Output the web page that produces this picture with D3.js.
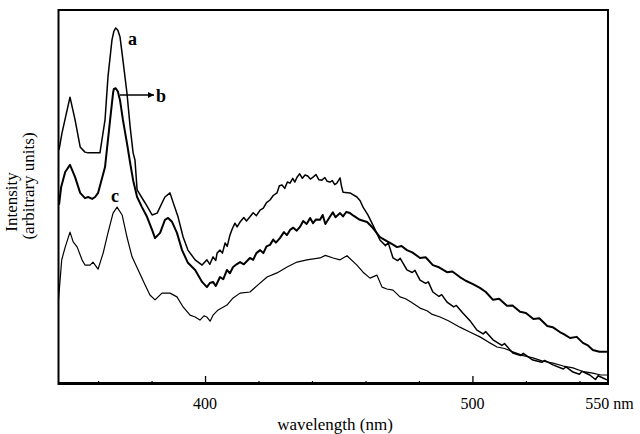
<!DOCTYPE html>
<html>
<head>
<meta charset="utf-8">
<script src="https://cdn.jsdelivr.net/npm/d3@7"></script>
<style>
    body { margin: 0; background: white; }
    text { font-family: "Liberation Serif", "Times New Roman", serif; fill: black; }
</style>
</head>
<body>
<svg id="chart" width="640" height="434"></svg>
<script>
// wavelength (nm) and intensity (arbitrary units)
var wlA = [345.4, 346.5, 349.5, 351.4, 353.3, 355.1, 356.3, 360.7, 362.6, 363.7, 365.2, 365.9, 366.6, 367.4, 368.2, 369.3, 370.8, 372.0, 373.1, 373.8, 374.6, 377.6, 380.2, 382.1, 383.9, 385.0, 386.9, 388.0, 389.9, 391.8, 393.6, 396.3, 398.9,
    400.7, 401.8, 403.0, 404.0, 404.5, 405.6, 406.5, 407.5, 408.3, 409.3, 410.2, 411.2, 412.0, 413.1, 414.5, 415.5, 416.8, 418.0, 419.2, 420.6, 421.8, 423.0, 424.3, 425.5, 426.9, 427.8, 428.8, 429.8, 430.8, 431.8, 432.8, 433.6, 434.4, 435.4, 436.4, 437.4, 438.4, 439.4, 440.4, 441.5, 442.6, 443.7, 444.8, 445.7, 446.7, 447.6, 448.5, 449.3, 450.5, 451.0, 451.6, 454.2, 456.8, 458.0, 459.1, 460.9, 462.8, 465.4, 467.5, 468.5, 470.3, 472.0, 473.0, 475.5, 477.5, 478.5, 480.4, 482.5, 483.5, 485.2, 487.5, 488.5, 490.5, 493.0, 494.0, 496.4, 499.0, 501.7, 504.0, 505.0, 507.7, 511.0, 512.0, 515.1, 518.0, 519.0, 522.6, 526.0, 527.0, 530.1, 534.0, 535.0, 537.6, 540.0, 541.0, 543.9, 546.0, 547.0, 548.8, 550.3];
var intA = [62.6, 67.1, 76.7, 70.6, 63.4, 62.0, 61.8, 61.8, 70.6, 82.1, 92.0, 94.3, 95.2, 94.6, 92.8, 86.6, 77.8, 68.7, 61.8, 59.9, 51.9, 48.4, 45.2, 45.7, 48.4, 50.0, 51.1, 48.7, 44.7, 39.3, 35.8, 33.2, 31.8,
    33.2, 32.0, 34.0, 33.0, 35.0, 35.8, 35.0, 37.7, 36.8, 39.8, 41.5, 43.0, 42.0, 43.3, 44.5, 43.6, 44.7, 45.8, 45.0, 46.5, 47.0, 48.5, 49.2, 50.4, 51.1, 53.0, 53.2, 52.3, 54.0, 53.7, 55.0, 54.0, 55.3, 56.2, 55.0, 55.9, 55.6, 54.8, 55.3, 56.0, 54.6, 54.5, 55.2, 54.2, 54.0, 54.4, 53.3, 53.7, 55.1, 53.0, 51.3, 51.1, 50.0, 49.0, 47.3, 45.2, 42.5, 38.5, 37.0, 37.8, 33.7, 33.0, 33.6, 30.5, 29.8, 30.4, 27.8, 26.9, 27.3, 24.6, 23.4, 23.9, 21.9, 20.6, 21.0, 19.0, 17.0, 14.4, 13.4, 14.0, 11.8, 10.3, 10.8, 8.3, 7.6, 8.2, 6.4, 5.8, 6.3, 5.1, 4.0, 4.6, 3.2, 2.6, 3.4, 2.4, 1.2, 2.2, 1.6, 1.1];

var wlB = [345.4, 346.2, 347.7, 349.5, 351.4, 353.3, 355.1, 356.3, 357.8, 358.9, 360.0, 362.6, 364.5, 365.6, 365.9, 366.6, 367.4, 368.2, 369.3, 370.8, 372.0, 373.1, 374.6, 376.4, 378.3, 380.2, 381.3, 383.2, 385.0, 386.2, 387.7, 389.5, 391.4, 393.6, 396.3, 398.9,
    400.7, 401.8, 403.0, 404.0, 405.6, 406.8, 408.2, 409.3, 410.5, 411.8, 413.1, 414.5, 416.8, 418.0, 419.2, 420.6, 421.8, 423.0, 424.3, 425.5, 426.5, 428.0, 429.5, 430.6, 431.8, 433.0, 434.3, 435.5, 436.7, 438.0, 439.3, 440.4, 441.5, 443.0, 444.0, 445.0, 446.7, 447.8, 448.8, 450.5, 451.6, 452.8, 454.2, 455.5, 457.9, 460.6, 462.8, 465.4, 468.0, 470.0, 471.8, 473.5, 475.5, 477.5, 480.4, 482.5, 485.2, 487.5, 490.5, 492.5, 495.3, 497.5, 500.2, 502.8, 505.0, 507.7, 510.0, 512.9, 515.0, 517.8, 520.0, 522.8, 525.0, 528.0, 530.0, 532.7, 534.5, 536.5, 539.0, 541.3, 543.0, 545.0, 547.5, 550.3];
var intB = [47.9, 52.7, 56.7, 58.6, 55.3, 51.1, 49.7, 50.0, 49.5, 50.0, 51.1, 58.0, 70.6, 77.8, 78.9, 79.1, 78.2, 75.9, 70.6, 64.4, 59.1, 54.5, 50.0, 47.3, 44.7, 41.2, 39.0, 40.4, 43.9, 44.4, 43.3, 40.4, 35.8, 32.4, 30.5, 27.3,
    25.9, 27.0, 27.3, 26.2, 28.6, 28.0, 30.5, 29.6, 31.3, 32.0, 32.6, 32.0, 33.7, 33.2, 35.0, 35.8, 35.0, 36.8, 37.2, 38.6, 37.8, 39.0, 40.6, 39.8, 41.2, 41.8, 41.0, 42.0, 43.6, 42.8, 44.4, 43.0, 44.0, 43.9, 45.2, 42.8, 44.7, 45.9, 44.6, 45.7, 44.8, 46.0, 45.7, 45.0, 43.9, 43.3, 41.7, 39.3, 38.2, 37.4, 36.6, 36.9, 35.8, 35.2, 33.7, 33.9, 31.8, 31.2, 29.9, 30.1, 28.6, 27.6, 26.7, 25.7, 24.6, 22.5, 22.8, 20.9, 21.0, 19.3, 19.0, 17.4, 17.6, 15.5, 15.2, 13.9, 13.2, 12.3, 12.6, 11.0, 10.4, 9.1, 8.6, 8.6];

var wlC = [345.2, 346.4, 347.7, 349.5, 350.7, 352.2, 354.0, 355.1, 357.0, 358.1, 360.0, 361.9, 363.7, 365.6, 367.1, 369.0, 370.8, 372.7, 375.0, 377.6, 379.4, 381.3, 383.9, 386.9, 389.5, 391.8, 394.4, 396.3, 398.1, 399.6, 400.7, 401.9, 403.0, 404.9, 408.2, 410.5, 413.1, 416.8, 419.8, 423.2, 426.9, 430.7, 434.4, 438.1, 443.0, 445.0, 447.9, 450.5, 453.1, 456.8, 459.1, 461.7, 464.3, 466.2, 468.0, 470.3, 472.9, 475.0, 477.0, 480.4, 483.0, 485.0, 487.9, 491.0, 493.0, 495.3, 499.0, 502.8, 506.0, 509.2, 512.0, 515.1, 519.0, 522.6, 526.0, 530.1, 534.0, 537.6, 541.0, 545.0, 548.0, 550.3];
var intC = [22.5, 33.2, 36.6, 40.6, 38.0, 36.6, 33.2, 31.8, 31.8, 32.6, 30.7, 35.0, 40.4, 45.7, 47.3, 45.2, 39.3, 34.0, 30.5, 26.5, 23.8, 22.5, 24.3, 24.3, 23.3, 20.6, 18.4, 17.9, 17.1, 18.2, 17.9, 16.8, 18.4, 19.8, 21.1, 23.0, 24.3, 24.6, 26.5, 28.6, 29.7, 31.3, 32.6, 33.2, 33.7, 34.4, 33.7, 33.2, 34.3, 31.8, 29.9, 28.3, 29.1, 25.9, 25.4, 25.1, 23.3, 22.8, 21.9, 20.3, 19.6, 18.6, 17.9, 16.9, 16.1, 15.2, 13.9, 12.6, 11.2, 9.9, 9.5, 8.6, 7.6, 7.0, 6.2, 5.6, 4.8, 4.3, 3.4, 2.9, 2.4, 2.4];

var majorTicks = [400, 500, 550];
var majorLabels = ["400", "500", "550 nm"];
var minorTicks = [360, 380, 420, 440, 460, 480, 520, 540];

var svg = d3.select("#chart");
var plotLeft = 58.5, plotRight = 608, plotTop = 10, plotBottom = 384;

var x = d3.scaleLinear().domain([345.2, 550.7]).range([plotLeft, plotRight]);
var y = d3.scaleLinear().domain([0, 100]).range([plotBottom, plotTop]);

var line = d3.line()
    .x(function (d) { return x(d[0]); })
    .y(function (d) { return y(d[1]); });

function pairs(w, v) {
    return w.map(function (d, i) { return [d, v[i]]; });
}

var curves = [
    { data: pairs(wlC, intC), width: 1.2 },
    { data: pairs(wlA, intA), width: 1.5 },
    { data: pairs(wlB, intB), width: 2.0 }
];

svg.append("g").selectAll("path")
    .data(curves)
    .enter().append("path")
    .attr("d", function (d) { return line(d.data); })
    .attr("fill", "none")
    .attr("stroke", "black")
    .attr("stroke-width", function (d) { return d.width; })
    .attr("stroke-linejoin", "round");

// frame
svg.append("rect")
    .attr("x", plotLeft).attr("y", plotTop)
    .attr("width", plotRight - plotLeft).attr("height", plotBottom - plotTop)
    .attr("fill", "none").attr("stroke", "black").attr("stroke-width", 2);
svg.append("line")
    .attr("x1", plotLeft).attr("x2", plotRight)
    .attr("y1", plotBottom - 1).attr("y2", plotBottom - 1)
    .attr("stroke", "black").attr("stroke-width", 2);

// ticks point up inside the frame
var xAxisMajor = d3.axisTop(x).tickValues([400, 500]).tickSize(8).tickFormat("");
var xAxisMinor = d3.axisTop(x).tickValues(minorTicks).tickSize(3).tickFormat("");
svg.append("g").attr("transform", "translate(0," + plotBottom + ")").call(xAxisMajor)
    .call(function (g) { g.select(".domain").remove(); })
    .selectAll("line").attr("stroke-width", 1.3);
svg.append("g").attr("transform", "translate(0," + plotBottom + ")").call(xAxisMinor)
    .call(function (g) { g.select(".domain").remove(); })
    .selectAll("line").attr("stroke-width", 1.2);

// tick labels
svg.append("g").selectAll("text")
    .data(majorTicks)
    .enter().append("text")
    .attr("x", function (d, i) { return i == 2 ? x(d) - 21 : x(d); })
    .attr("y", 409)
    .attr("text-anchor", function (d, i) { return i == 2 ? "start" : "middle"; })
    .style("font-size", "16px")
    .text(function (d, i) { return majorLabels[i]; });

svg.append("text")
    .attr("x", 335).attr("y", 430)
    .attr("text-anchor", "middle")
    .style("font-size", "17px")
    .text("wavelength (nm)");

svg.append("text")
    .attr("transform", "translate(17,202) rotate(-90)")
    .attr("text-anchor", "middle")
    .style("font-size", "17px")
    .text("Intensity");
svg.append("text")
    .attr("transform", "translate(34,186) rotate(-90)")
    .attr("text-anchor", "middle")
    .style("font-size", "17px")
    .text("(arbitrary units)");

// curve labels
svg.append("text").attr("x", 128).attr("y", 45)
    .style("font-size", "18px").style("font-weight", "bold").text("a");
svg.append("text").attr("x", 156).attr("y", 101.5)
    .style("font-size", "18px").style("font-weight", "bold").text("b");
svg.append("text").attr("x", 111).attr("y", 201.5)
    .style("font-size", "18px").style("font-weight", "bold").text("c");

svg.append("defs").append("marker")
    .attr("id", "arrow")
    .attr("viewBox", "0 0 10 10")
    .attr("refX", 10).attr("refY", 5)
    .attr("markerWidth", 9).attr("markerHeight", 6)
    .attr("markerUnits", "userSpaceOnUse")
    .attr("orient", "auto")
    .append("path").attr("d", "M0,0L10,5L0,10z").attr("fill", "black");
svg.append("line")
    .attr("x1", 120).attr("x2", 154)
    .attr("y1", 95).attr("y2", 95)
    .attr("stroke", "black").attr("stroke-width", 1.5)
    .attr("marker-end", "url(#arrow)");
</script>
</body>
</html>
